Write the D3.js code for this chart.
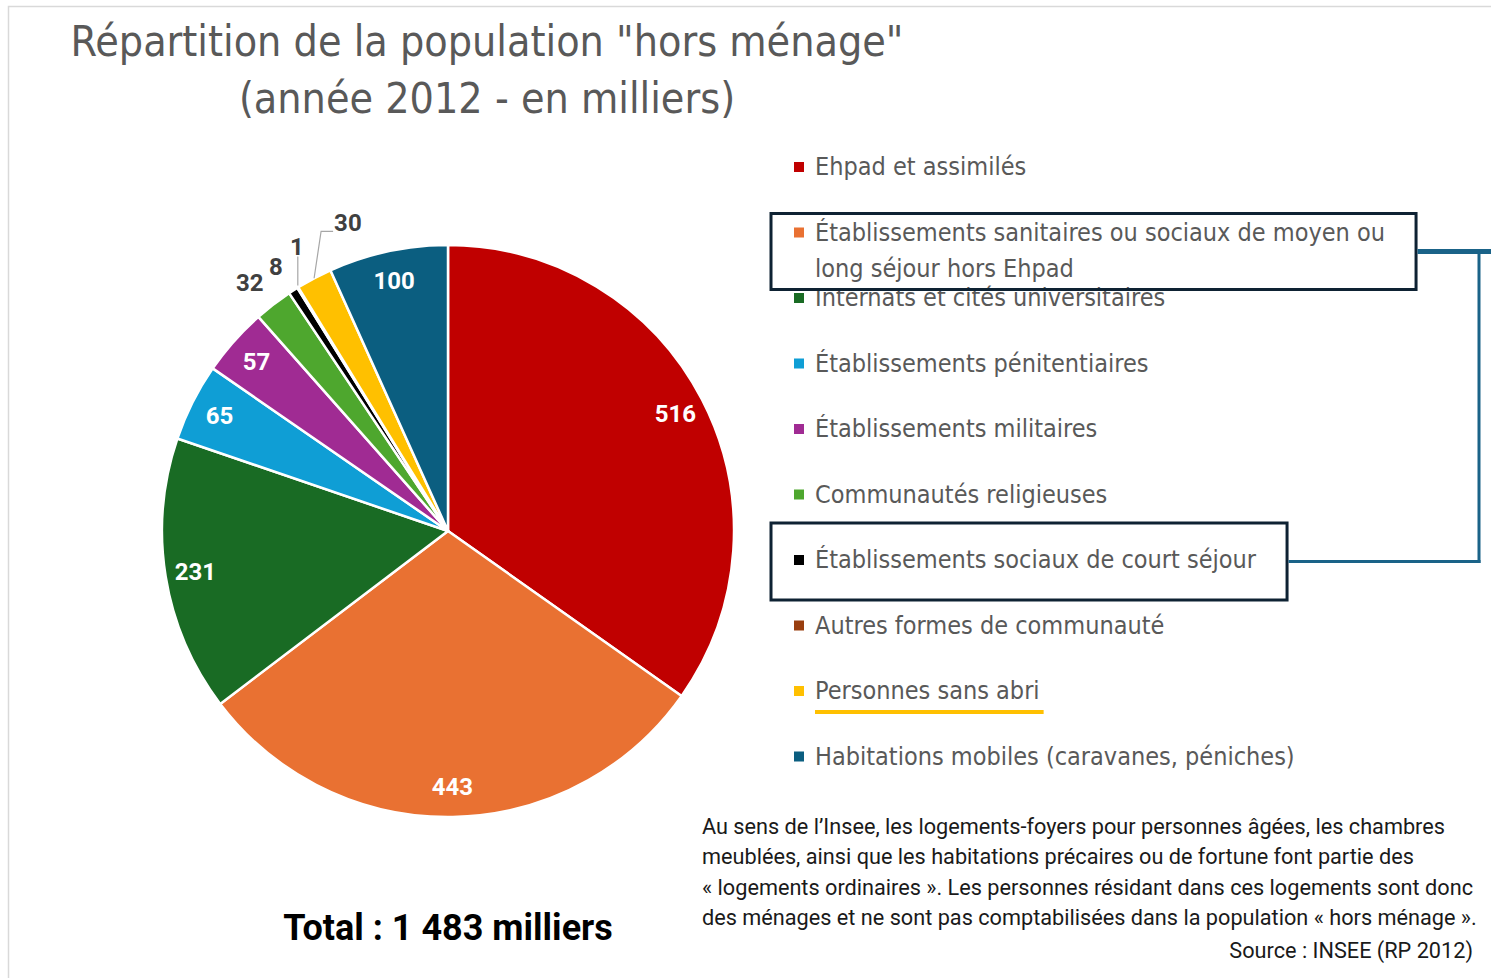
<!DOCTYPE html>
<html>
<head>
<meta charset="utf-8">
<script src="https://cdn.jsdelivr.net/npm/d3@7"></script>
<style>
  body { margin: 0; background: #ffffff; }
  svg { display: block; }
</style>
</head>
<body>
<svg id="chart" width="1491" height="978"></svg>
<script>
// ---- Data -------------------------------------------------------------
const categories = [
  "Ehpad et assimilés",
  "Établissements sanitaires ou sociaux de moyen ou|long séjour hors Ehpad",
  "Internats et cités universitaires",
  "Établissements pénitentiaires",
  "Établissements militaires",
  "Communautés religieuses",
  "Établissements sociaux de court séjour",
  "Autres formes de communauté",
  "Personnes sans abri",
  "Habitations mobiles (caravanes, péniches)"
];
const values = [516, 443, 231, 65, 57, 32, 8, 1, 30, 100];
const colors = ["#c00000", "#e97132", "#196b24", "#0f9ed5", "#a02b93",
                "#4ea72e", "#000000", "#993e0f", "#ffc000", "#0b5e80"];
const titleLines = ['Répartition de la population "hors ménage"', "(année 2012 - en milliers)"];
const noteLines = [
  "Au sens de l’Insee, les logements-foyers pour personnes âgées, les chambres",
  "meublées, ainsi que les habitations précaires ou de fortune font partie des",
  "« logements ordinaires ». Les personnes résidant dans ces logements sont donc",
  "des ménages et ne sont pas comptabilisées dans la population « hors ménage »."
];
const sourceText = "Source : INSEE (RP 2012)";
const highlighted = [1, 6];   // legend entries framed and linked
const underlined = [8];       // legend entry underlined

// ---- Setup ------------------------------------------------------------
const svg = d3.select("#chart");
const W = 1491, H = 978;
const fr = d3.formatLocale({ decimal: ",", thousands: "\u00a0", grouping: [3], currency: ["", " €"] });
const fmtThousands = fr.format(",");

const FONT = "'DejaVu Sans Condensed', 'Roboto', sans-serif";
const FONT_WIDE = "'Roboto', 'Liberation Sans', sans-serif";

// Outer frame of the chart area
svg.append("rect")
  .attr("x", 8.5).attr("y", 6.5)
  .attr("width", W + 20).attr("height", H + 20)
  .attr("fill", "none").attr("stroke", "#d9d9d9").attr("stroke-width", 1.5);

// Title
svg.append("g").selectAll("text").data(titleLines).join("text")
  .attr("x", 487).attr("y", (d, i) => 56 + i * 57)
  .attr("text-anchor", "middle")
  .attr("font-family", FONT).attr("font-size", 42.6)
  .attr("fill", "#595959")
  .text(d => d);

// ---- Pie --------------------------------------------------------------
const cx = 448, cy = 531, R = 286;
const pie = d3.pie().sort(null).value(d => d);
const arcs = pie(values);
const arc = d3.arc().innerRadius(0).outerRadius(R);

const gPie = svg.append("g").attr("transform", `translate(${cx},${cy})`);
gPie.selectAll("path").data(arcs).join("path")
  .attr("d", arc)
  .attr("fill", (d, i) => colors[i])
  .attr("stroke", "#ffffff").attr("stroke-width", 2.5)
  .attr("stroke-linejoin", "round");

// Value labels
const insideArc = d3.arc().innerRadius(256).outerRadius(256);
const outsideArc = d3.arc().innerRadius(318).outerRadius(318);
const edgeArc = d3.arc().innerRadius(R).outerRadius(R);
const insideIdx = new Set([0, 1, 2, 3, 4, 9]);
const gLab = gPie.append("g")
  .attr("font-family", FONT_WIDE).attr("font-weight", "bold").attr("font-size", 24);

arcs.forEach((d, i) => {
  const v = d.data;
  if (insideIdx.has(i)) {
    const [x, y] = insideArc.centroid(d);
    gLab.append("text").attr("x", x).attr("y", y)
      .attr("text-anchor", "middle").attr("dy", "0.35em")
      .attr("fill", "#ffffff").text(v);
  } else if (i === 7) {
    // tiny slice: label straight above its rim with a short leader
    const [ex, ey] = edgeArc.centroid(d);
    gLab.append("line")
      .attr("x1", ex).attr("y1", ey - 2).attr("x2", ex).attr("y2", ey - 31)
      .attr("stroke", "#a6a6a6").attr("stroke-width", 1.2);
    gLab.append("text").attr("x", ex - 1).attr("y", ey - 41)
      .attr("text-anchor", "middle").attr("dy", "0.35em")
      .attr("fill", "#404040").text(v);
  } else if (i === 8) {
    // elbow leader going up-right
    const [ex, ey] = edgeArc.centroid(d);
    const kx = ex + 7, ky = ey - 47;
    gLab.append("polyline")
      .attr("points", [[ex, ey], [kx, ky], [kx + 12, ky]].map(p => p.join(",")).join(" "))
      .attr("fill", "none").attr("stroke", "#a6a6a6").attr("stroke-width", 1.2);
    gLab.append("text").attr("x", kx + 13).attr("y", ky - 9)
      .attr("text-anchor", "start").attr("dy", "0.35em")
      .attr("fill", "#404040").text(v);
  } else {
    const [x, y] = outsideArc.centroid(d);
    gLab.append("text").attr("x", x - (i === 5 ? 4 : 0)).attr("y", y + 3)
      .attr("text-anchor", "middle").attr("dy", "0.35em")
      .attr("fill", "#404040").text(v);
  }
});

// Total
svg.append("text")
  .attr("x", cx).attr("y", 940)
  .attr("text-anchor", "middle")
  .attr("font-family", FONT_WIDE).attr("font-weight", "bold").attr("font-size", 36)
  .attr("fill", "#000000")
  .text(`Total : ${fmtThousands(d3.sum(values))} milliers`);

// ---- Legend -----------------------------------------------------------
const legX = 794, legY0 = 167, legStep = 65.5;
const gLeg = svg.append("g").attr("font-family", FONT).attr("font-size", 25).attr("fill", "#595959");
const rowBoxes = [];
categories.forEach((c, i) => {
  const y = legY0 + i * legStep;
  gLeg.append("rect").attr("x", legX).attr("y", y - 5).attr("width", 10).attr("height", 10)
    .attr("fill", colors[i]);
  const lines = c.split("|");
  let maxW = 0;
  lines.forEach((ln, j) => {
    const t = gLeg.append("text").attr("x", 815).attr("y", y + j * 36 + 8).text(ln);
    maxW = Math.max(maxW, t.node().getComputedTextLength());
  });
  rowBoxes.push({ y, w: maxW, lines: lines.length });
});

// Underline
underlined.forEach(i => {
  const b = rowBoxes[i];
  svg.append("rect").attr("x", 815).attr("y", b.y + 19).attr("width", b.w + 4).attr("height", 4)
    .attr("fill", colors[i]);
});

// Frames around highlighted entries, joined by a bracket on the right
const frames = highlighted.map(i => {
  const b = rowBoxes[i];
  const top = b.y - (b.lines > 1 ? 19 : 37);
  const bottom = b.y + (b.lines > 1 ? 57 : 40);
  const right = 815 + b.w + 31;
  return { x: 771, top, bottom, right, mid: (top + bottom) / 2 };
});
frames.forEach(f => {
  svg.append("rect").attr("x", f.x).attr("y", f.top)
    .attr("width", f.right - f.x).attr("height", f.bottom - f.top)
    .attr("fill", "none").attr("stroke", "#0e2233").attr("stroke-width", 3);
});
const bx = 1479;
svg.append("line").attr("x1", frames[0].right + 1.5).attr("y1", frames[0].mid)
  .attr("x2", W + 5).attr("y2", frames[0].mid)
  .attr("stroke", "#1a6388").attr("stroke-width", 5);
svg.append("line").attr("x1", bx).attr("y1", frames[0].mid)
  .attr("x2", bx).attr("y2", frames[1].mid + 1.5)
  .attr("stroke", "#1a6388").attr("stroke-width", 3);
svg.append("line").attr("x1", frames[1].right + 1.5).attr("y1", frames[1].mid)
  .attr("x2", bx + 1.5).attr("y2", frames[1].mid)
  .attr("stroke", "#1a6388").attr("stroke-width", 3);

// ---- Note and source ---------------------------------------------------
svg.append("g").attr("font-family", FONT_WIDE).attr("font-size", 21.7).attr("fill", "#1a1a1a")
  .selectAll("text").data(noteLines).join("text")
  .attr("x", 702).attr("y", (d, i) => 834 + i * 30.3)
  .text(d => d);
svg.append("text").attr("x", 1473).attr("y", 958)
  .attr("text-anchor", "end")
  .attr("font-family", FONT_WIDE).attr("font-size", 21.7).attr("fill", "#1a1a1a")
  .text(sourceText);
</script>
</body>
</html>
